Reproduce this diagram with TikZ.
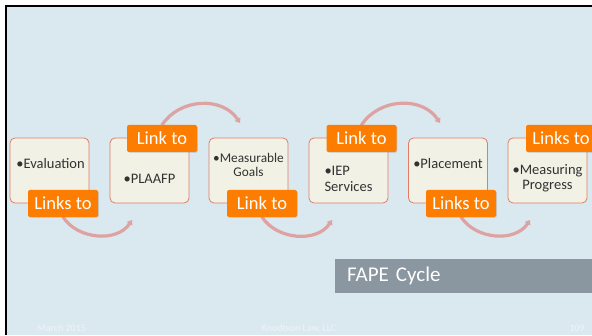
\documentclass[tikz,border=0pt]{standalone}
\usepackage{fontspec}
\setmainfont{Carlito}
\usetikzlibrary{arrows.meta,shadows}
\definecolor{bgblue}{RGB}{218,232,239}
\definecolor{boxfill}{RGB}{241,241,229}
\definecolor{boxedge}{RGB}{226,124,100}
\definecolor{lblorange}{RGB}{252,125,0}
\definecolor{arcpink}{RGB}{222,162,162}
\definecolor{fapegray}{RGB}{138,150,160}
\definecolor{foot}{RGB}{238,245,249}
\definecolor{boxtxt}{RGB}{50,50,50}
\begin{document}
\begin{tikzpicture}[x=1pt,y=1pt,
 stepbox/.style={draw=boxedge, line width=0.8pt, fill=boxfill, rounded corners=5pt, minimum width=79pt, minimum height=65pt, inner sep=0pt},
 boxtext/.style={font=\fontsize{14.5}{15.5}\selectfont, text=boxtxt, align=center, inner sep=0pt},
 linklabel/.style={fill=lblorange, rounded corners=2pt, minimum width=70pt, minimum height=27pt, inner sep=0pt, text=white, font=\fontsize{18.5}{20}\selectfont, drop shadow={opacity=0.25, shadow xshift=0.8pt, shadow yshift=-0.8pt}},
 cyclearc/.style={draw=arcpink, line width=3.2pt, line cap=round, -{Triangle[length=4.5pt,width=6.5pt]}},
 footer/.style={text=foot, font=\fontsize{10}{11}\selectfont, inner sep=0pt}
]
\useasboundingbox (0,0) rectangle (592,335);
\fill[white] (0,0) rectangle (592,335);
\fill[bgblue] (6,0) rectangle (592,329);
\draw[black, line width=2pt] (6,0) -- (6,329) -- (592,329);

% coordinates for arc ends
\coordinate (e1) at (132,115);
\coordinate (e2) at (240,212);
\coordinate (e3) at (332,115);
\coordinate (e4) at (440,212);
\coordinate (e5) at (530,115);

% label positions
\path (63,131.5) coordinate (p1) (162,196.5) coordinate (p2) (262,131.5) coordinate (p3)
      (361.5,196.5) coordinate (p4) (461,131.5) coordinate (p5) (561,196.5) coordinate (p6);

\draw[cyclearc] ([yshift=-13.5pt]p1) to[out=-57,in=-123] (e1);
\draw[cyclearc] ([yshift=13.5pt]p2) to[out=57,in=123,looseness=1.05] (e2);
\draw[cyclearc] ([yshift=-13.5pt]p3) to[out=-57,in=-123] (e3);
\draw[cyclearc] ([yshift=13.5pt]p4) to[out=57,in=123,looseness=1.05] (e4);
\draw[cyclearc] ([yshift=-13.5pt]p5) to[out=-57,in=-123] (e5);

% boxes
\node[stepbox] (b1) at (49.5,164.5) {};
\node[stepbox] (b2) at (149.5,164.5) {};
\node[stepbox] (b3) at (248.5,164.5) {};
\node[stepbox] (b4) at (348.5,164.5) {};
\node[stepbox] (b5) at (448,164.5) {};
\node[stepbox] (b6) at (547.5,164.5) {};

\node[boxtext] (t1) at (50.5,171) {•Evaluation};
\node[boxtext] (t2) at (149.5,156) {•PLAAFP};
\node[boxtext, font=\fontsize{13.3}{14.5}\selectfont] (t3) at (248.5,170) {•Measurable\\Goals};
\node[boxtext, align=left] (t4) at (348.5,156) {•IEP\\Services};
\node[boxtext] (t5) at (448,171) {•Placement};
\node[boxtext] (t6) at (547.5,156.5) {•Measuring\\Progress};

% labels
\node[linklabel] (l1) at (p1) {Links to};
\node[linklabel] (l2) at (p2) {Link to};
\node[linklabel] (l3) at (p3) {Link to};
\node[linklabel] (l4) at (p4) {Link to};
\node[linklabel] (l5) at (p5) {Links to};
\node[linklabel] (l6) at (p6) {Links to};

% title bar
\node[fill=fapegray, anchor=south west, minimum width=257pt, minimum height=34pt, text width=233pt, inner xsep=12pt, inner ysep=0pt, align=left, text=white, font=\fontsize{21}{22}\selectfont] (fape) at (335,42) {FAPE Cycle};

% footer
\node[footer, anchor=base west] (f1) at (37,3.5) {March 2015};
\node[footer, anchor=base] (f2) at (299,3.5) {Knudtson Law, LLC};
\node[footer, anchor=base east] (f3) at (585,3.5) {109};
\end{tikzpicture}
\end{document}
